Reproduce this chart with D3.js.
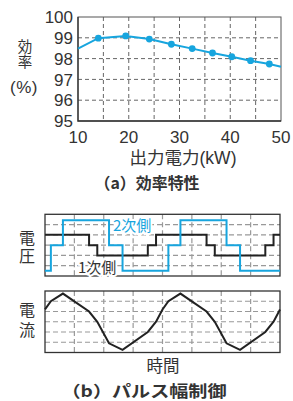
<!DOCTYPE html>
<html>
<head>
<meta charset="utf-8">
<script src="https://cdn.jsdelivr.net/npm/d3@7"></script>
<style>
  body { margin: 0; background: #fff; }
  text { font-family: "Liberation Sans", Arial, "Noto Sans CJK JP", sans-serif; fill: #333; }
  .jp { font-family: "Noto Sans CJK JP", sans-serif; }
  .vert { writing-mode: vertical-rl; }
</style>
</head>
<body>
<div id="chart"></div>
<script>
// (a) efficiency curve
const powerKW = [10, 14.0, 19.4, 24.05, 28.4, 32.5, 36.5, 40.3, 44.0, 47.7, 50];
const efficiency = [98.48, 98.98, 99.09, 98.94, 98.69, 98.48, 98.27, 98.09, 97.9, 97.74, 97.61];
const markerIdx = [1, 2, 3, 4, 5, 6, 7, 8, 9];
const xTicks = [10, 20, 30, 40, 50];
const yTicks = [95, 96, 97, 98, 99, 100];

// (b) pulse width control, time in grid divisions (period = 4)
const tPrimary = [0, 1.5, 1.78, 3.5, 3.78, 5.5, 5.78, 7.5, 7.78, 8];
const vPrimary = [4, 3, 2, 3, 4, 3, 2, 3, 4, 4];
const tSecondary = [0, 0.2, 0.61, 2.18, 2.64, 4.2, 4.61, 6.18, 6.64, 8];
const vSecondary = [0.5, 3, 5.43, 3, 0.5, 3, 5.43, 3, 0.5, 0.5];
const tCurrent = [0, 0.2, 0.61, 1.5, 1.78, 2.18, 2.64, 3.5, 3.78, 4, 4.2, 4.61, 5.5, 5.78, 6.18, 6.64, 7.5, 7.78, 8];
const iCurrent = [4.2, 5.0, 5.75, 4.0, 3.0, 0.9, 0.25, 2.0, 3.0, 4.2, 5.0, 5.75, 4.0, 3.0, 0.9, 0.25, 2.0, 3.0, 4.2];

const blue = "#17a5de";
const W = 293, H = 401;

const svg = d3.select("#chart").append("svg")
  .attr("width", W).attr("height", H);

// ---------- (a) ----------
const x = d3.scaleLinear().domain([10, 50]).range([78, 281]);
const y = d3.scaleLinear().domain([95, 100]).range([121, 17]);

const gA = svg.append("g");

gA.selectAll(".vgrid").data(d3.range(15, 50, 5)).enter().append("line")
  .attr("x1", d => x(d)).attr("x2", d => x(d))
  .attr("y1", y(100)).attr("y2", y(95))
  .attr("stroke", "#666").attr("stroke-dasharray", "4,3");
gA.selectAll(".hgrid").data([96, 97, 98, 99]).enter().append("line")
  .attr("x1", x(10)).attr("x2", x(50))
  .attr("y1", d => y(d)).attr("y2", d => y(d))
  .attr("stroke", "#666").attr("stroke-dasharray", "4,3");

gA.append("rect")
  .attr("x", x(10)).attr("y", y(100))
  .attr("width", x(50) - x(10)).attr("height", y(95) - y(100))
  .attr("fill", "none").attr("stroke", "#555");
gA.append("path")
  .attr("d", `M${x(10)},${y(100)}V${y(95)}H${x(50)}`)
  .attr("fill", "none").attr("stroke", "#333").attr("stroke-width", 1.3);

gA.selectAll(".ytl").data(yTicks).enter().append("text")
  .attr("x", 73).attr("y", d => y(d)).attr("dy", "0.36em")
  .attr("text-anchor", "end").attr("font-size", 17)
  .text(d => d);
gA.selectAll(".xtl").data(xTicks).enter().append("text")
  .attr("x", d => x(d)).attr("y", 143)
  .attr("text-anchor", "middle").attr("font-size", 17)
  .text(d => d);

gA.append("path")
  .datum(powerKW.map((p, i) => [p, efficiency[i]]))
  .attr("d", d3.line().x(d => x(d[0])).y(d => y(d[1])))
  .attr("fill", "none").attr("stroke", blue).attr("stroke-width", 2);
gA.selectAll(".dot").data(markerIdx).enter().append("circle")
  .attr("cx", i => x(powerKW[i])).attr("cy", i => y(efficiency[i]))
  .attr("r", 3.4).attr("fill", blue);

gA.append("text").attr("x", 183).attr("y", 164)
  .attr("text-anchor", "middle").attr("font-size", 17.5)
  .text("出力電力(kW)");

// vertical y label
gA.append("text").attr("class", "jp vert").attr("x", 25).attr("y", 54)
  .attr("text-anchor", "middle").attr("font-size", 14.5)
  .text("効率");
gA.append("text").attr("x", 24).attr("y", 93)
  .attr("text-anchor", "middle").attr("font-size", 17)
  .style("letter-spacing", "0.5px")
  .text("(%)");

gA.append("text").attr("class", "jp").attr("x", 147).attr("y", 189)
  .attr("text-anchor", "middle").attr("font-size", 16).attr("font-weight", "bold")
  .attr("textLength", 105).attr("lengthAdjust", "spacingAndGlyphs")
  .text("（a）効率特性");

// ---------- (b) ----------
const t = d3.scaleLinear().domain([0, 8]).range([45, 280]);
const yV = d3.scaleLinear().domain([0, 6]).range([276, 214.3]);
const yI = d3.scaleLinear().domain([0, 6]).range([352.5, 291]);

function panel(ys) {
  const g = svg.append("g");
  g.selectAll(".vg").data(d3.range(1, 8)).enter().append("line")
    .attr("x1", d => t(d)).attr("x2", d => t(d))
    .attr("y1", ys(6)).attr("y2", ys(0))
    .attr("stroke", "#999").attr("stroke-width", 1.2).attr("stroke-dasharray", "5,3");
  g.selectAll(".hg").data(d3.range(1, 6)).enter().append("line")
    .attr("x1", t(0)).attr("x2", t(8))
    .attr("y1", d => ys(d)).attr("y2", d => ys(d))
    .attr("stroke", "#999").attr("stroke-width", 1.2).attr("stroke-dasharray", "5,3");
  g.append("rect")
    .attr("x", t(0)).attr("y", ys(6))
    .attr("width", t(8) - t(0)).attr("height", ys(0) - ys(6))
    .attr("fill", "none").attr("stroke", "#333").attr("stroke-width", 1.3);
  return g;
}

const gV = panel(yV);
const stepLine = d3.line().x(d => t(d[0])).y(d => yV(d[1])).curve(d3.curveStepAfter);
gV.append("path")
  .datum(tPrimary.map((v, i) => [v, vPrimary[i]]))
  .attr("d", stepLine)
  .attr("fill", "none").attr("stroke", "#222").attr("stroke-width", 2);
gV.append("path")
  .datum(tSecondary.map((v, i) => [v, vSecondary[i]]))
  .attr("d", stepLine)
  .attr("fill", "none").attr("stroke", blue).attr("stroke-width", 2);

gV.append("text").attr("class", "jp").attr("x", 113).attr("y", 231)
  .attr("font-size", 15).style("fill", blue)
  .attr("stroke", "#fff").attr("stroke-width", 4).attr("paint-order", "stroke")
  .text("2次側");
gV.append("text").attr("class", "jp").attr("x", 78).attr("y", 273)
  .attr("font-size", 15).style("fill", "#333")
  .attr("stroke", "#fff").attr("stroke-width", 4).attr("paint-order", "stroke")
  .text("1次側");

const gI = panel(yI);
gI.append("path")
  .datum(tCurrent.map((v, i) => [v, iCurrent[i]]))
  .attr("d", d3.line().x(d => t(d[0])).y(d => yI(d[1])))
  .attr("fill", "none").attr("stroke", "#222").attr("stroke-width", 2);

function vlabel(str, cy, gap) {
  svg.append("text").attr("class", "jp vert")
    .attr("x", 27).attr("y", cy)
    .attr("text-anchor", "middle").attr("font-size", 16)
    .style("letter-spacing", gap + "px")
    .text(str);
}
vlabel("電圧", 248, 2.5);
vlabel("電流", 322, 4);

svg.append("text").attr("class", "jp").attr("x", 163).attr("y", 372)
  .attr("text-anchor", "middle").attr("font-size", 16.5).text("時間");
svg.append("text").attr("class", "jp").attr("x", 144).attr("y", 397)
  .attr("text-anchor", "middle").attr("font-size", 16).attr("font-weight", "bold")
  .attr("textLength", 165).attr("lengthAdjust", "spacingAndGlyphs")
  .text("（b）パルス幅制御");
</script>
</body>
</html>
